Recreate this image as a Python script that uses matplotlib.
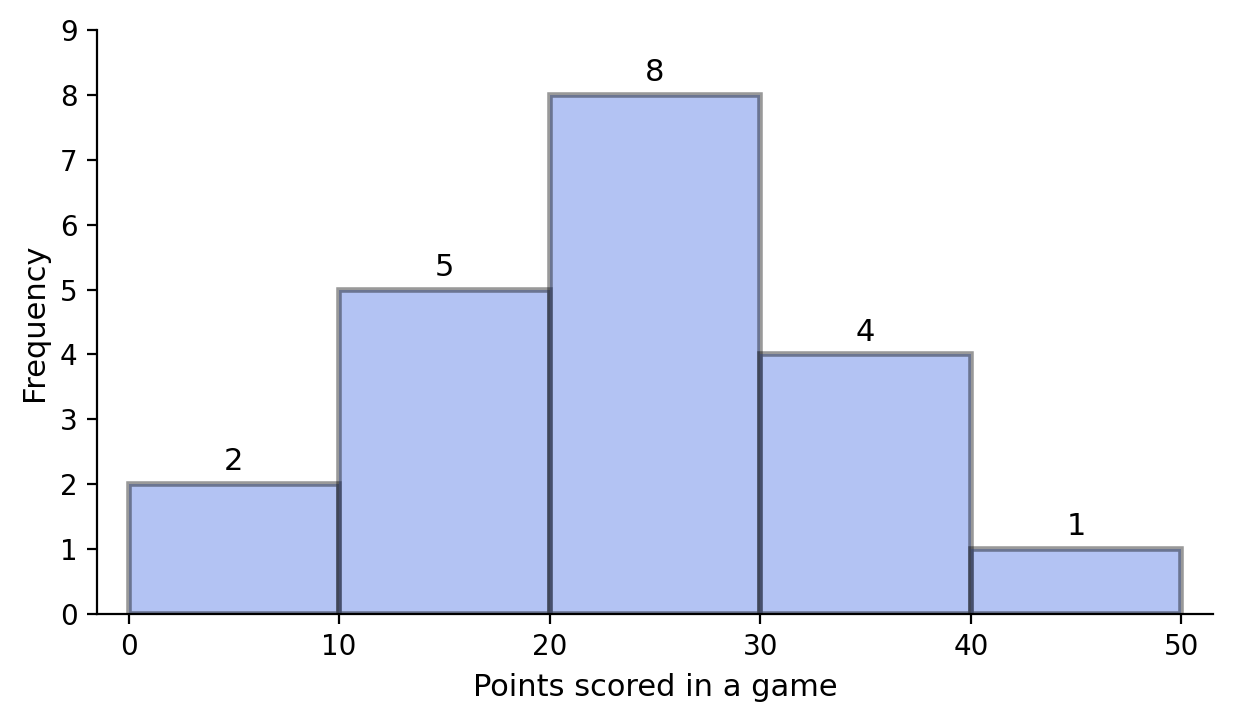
import matplotlib
matplotlib.use("Agg")
import matplotlib.pyplot as plt
import numpy as np

bin_edges = [0, 10, 20, 30, 40, 50]
frequencies = [2, 5, 8, 4, 1]
xlabel = "Points scored in a game"
ylabel = "Frequency"

fig, ax = plt.subplots(figsize=(6.165, 3.615), dpi=200)
lefts = bin_edges[:-1]
widths = np.diff(bin_edges)
bars = ax.bar(lefts, frequencies, width=widths, align='edge', color='royalblue',
              edgecolor='black', linewidth=2, alpha=0.4)
for l, w, f in zip(lefts, widths, frequencies):
    ax.text(l + w / 2, f + 0.12, str(f), ha='center', va='bottom', fontsize=11)

ax.set_xlim(-1.5, 51.5)
ax.set_ylim(0, 9)
ax.set_yticks(range(0, 10))
ax.set_xticks(range(0, 51, 10))
ax.set_xlabel(xlabel, fontsize=11)
ax.set_ylabel(ylabel, fontsize=11)
ax.tick_params(labelsize=10)
ax.spines['top'].set_visible(False)
ax.spines['right'].set_visible(False)
fig.subplots_adjust(left=0.0787, right=0.9838, top=0.9585, bottom=0.1507)
fig.savefig("out.png", dpi=200)
